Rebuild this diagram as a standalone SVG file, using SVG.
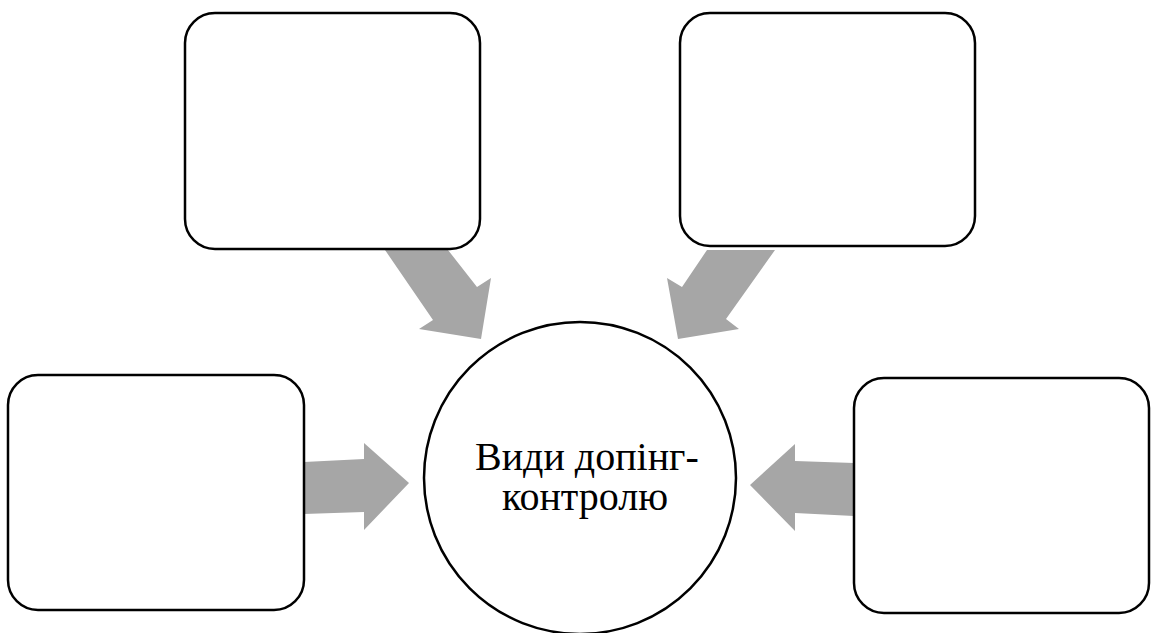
<svg xmlns="http://www.w3.org/2000/svg" width="1152" height="633" viewBox="0 0 1152 633">
<style>
.box{fill:#fff;stroke:#000;stroke-width:2.5}
.arr{fill:#a6a6a6;stroke:none}
</style>
<rect width="1152" height="633" fill="#fff"/>
<g id="connectors">
<polygon class="arr" points="385,250 448,250 477,287 491,278 481,339 419,329 433,320"/>
<polygon class="arr" points="707,250 775,250 726,319 739,329 678,339 667,278 682,287"/>
<polygon class="arr" points="304,462 364,459 364,443 409,483 364,530 364,512 304,514"/>
<polygon class="arr" points="854,463 795,461 795,444 750,485 795,531 795,513 854,516"/>
</g>
<g id="box-top-left"><rect class="box" x="185" y="13" width="295" height="236" rx="30"/></g>
<g id="box-top-right"><rect class="box" x="680" y="13" width="295" height="233" rx="30"/></g>
<g id="box-left"><rect class="box" x="8" y="375" width="296" height="235" rx="30"/></g>
<g id="box-right"><rect class="box" x="854" y="378" width="295" height="235" rx="30"/></g>
<g id="center">
<circle cx="580" cy="478" r="156" fill="#fff" stroke="#000" stroke-width="2.5"/>
<text x="475" y="470" font-family="Liberation Serif, serif" font-size="40">Види допінг-</text>
<text x="502" y="510" font-family="Liberation Serif, serif" font-size="40">контролю</text>
</g>
</svg>
